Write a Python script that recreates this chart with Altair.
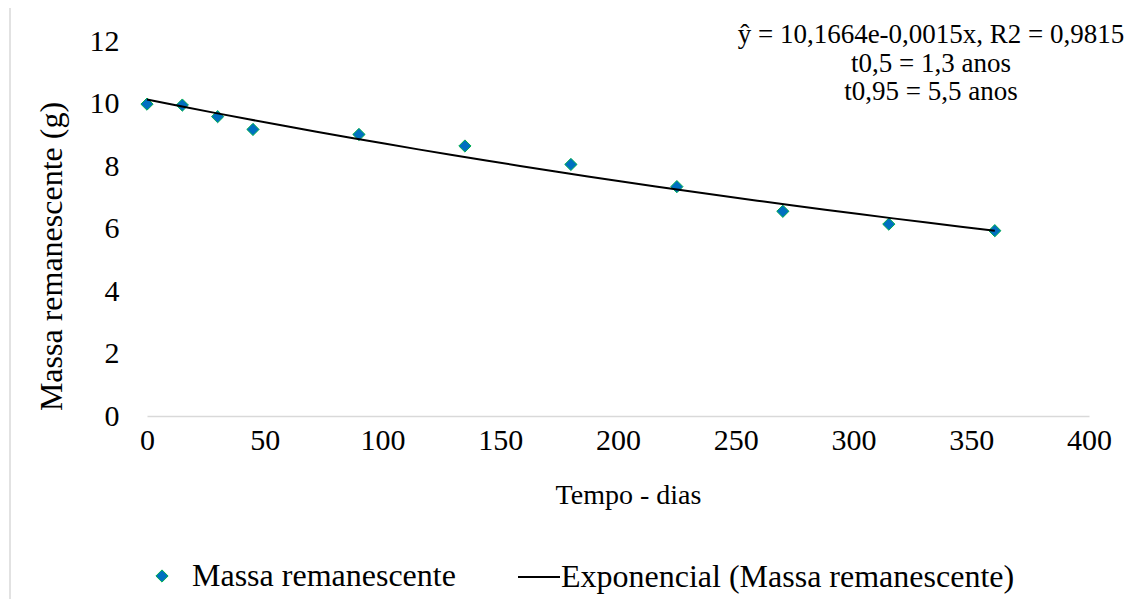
import altair as alt
import pandas as pd

tempo = [0, 15, 30, 45, 90, 135, 180, 225, 270, 315, 360]
massa = [9.98, 9.95, 9.58, 9.17, 9.01, 8.64, 8.05, 7.34, 6.55, 6.14, 5.93]
serie_pts = "Massa remanescente"
serie_fit = "Exponencial (Massa remanescente)"
anotacao = ["ŷ = 10,1664e-0,0015x, R2 = 0,9815", "t0,5 = 1,3 anos", "t0,95 = 5,5 anos"]
x_ticks = [0, 50, 100, 150, 200, 250, 300, 350, 400]
y_ticks = [0, 2, 4, 6, 8, 10, 12]

df = pd.DataFrame({"tempo": tempo, "massa": massa, "serie": serie_pts})

FONT = "Liberation Serif"

x_enc = alt.X("tempo:Q", scale=alt.Scale(domain=[0, 400], nice=False),
              axis=alt.Axis(values=x_ticks, title="Tempo - dias", grid=False, ticks=False,
                            domain=True, domainColor="#D9D9D9", domainWidth=1.5,
                            labelPadding=9, titlePadding=26, labelFlush=False,
                            titleFontSize=28, titleX=481))
y_enc = alt.Y("massa:Q", scale=alt.Scale(domain=[0, 12], nice=False),
              axis=alt.Axis(values=y_ticks, title="Massa remanescente (g)", grid=False,
                            ticks=False, domain=False, labelPadding=28,
                            titleFontSize=32, titleX=-79, titleY=215,
                            titleBaseline="bottom", titleAlign="center", titleAngle=270))

pontos = alt.Chart(df).mark_point(shape="diamond", filled=True, size=150, opacity=1,
                                  stroke="#00B050", strokeWidth=1).encode(
    x=x_enc, y=y_enc,
    color=alt.Color("serie:N", scale=alt.Scale(domain=[serie_pts], range=["#0070C0"]),
                    legend=alt.Legend(title=None, orient="none", legendX=-1, legendY=519,
                                      symbolType="diamond", symbolSize=150,
                                      symbolStrokeColor="#00B050", symbolStrokeWidth=1,
                                      labelFont=FONT, labelFontSize=32, labelColor="black",
                                      labelOffset=14, labelLimit=0, padding=0)),
)

curva = alt.Chart(df).transform_regression(
    "tempo", "massa", method="exp", extent=[0, 360]
).transform_calculate(serie=f"'{serie_fit}'").mark_line(strokeWidth=2).encode(
    x="tempo:Q", y="massa:Q",
    stroke=alt.Stroke("serie:N", scale=alt.Scale(domain=[serie_fit], range=["black"]),
                      legend=alt.Legend(title=None, orient="none", legendX=370, legendY=514,
                                        symbolType="stroke", symbolSize=1764,
                                        symbolStrokeWidth=2, labelFont=FONT,
                                        labelFontSize=32, labelColor="black",
                                        labelOffset=0, labelLimit=0, padding=0)),
)

texto = alt.Chart(pd.DataFrame({"a": [0]})).mark_text(
    text=anotacao, font=FONT, fontSize=27, lineHeight=28.5, align="center",
    baseline="top", color="black"
).encode(x=alt.value(784), y=alt.value(-19))

borda = alt.Chart(pd.DataFrame({"a": [0]})).mark_rule(
    color="#D9D9D9", strokeWidth=1.5, clip=False
).encode(x=alt.value(-137), y=alt.value(-33), y2=alt.value(558))

chart = alt.layer(borda, pontos, curva, texto).resolve_scale(color="independent").properties(
    width=942, height=375,
    background="white",
    autosize=alt.AutoSizeParams(type="none"),
    padding={"left": 139, "top": 33, "right": 43, "bottom": 183},
).configure_view(stroke=None).configure_axis(
    labelFont=FONT, labelFontSize=30, labelColor="black", titleFont=FONT,
    titleColor="black", titleFontWeight="normal"
)

chart.save("out.html", embed_options={"renderer": "svg", "actions": False})
